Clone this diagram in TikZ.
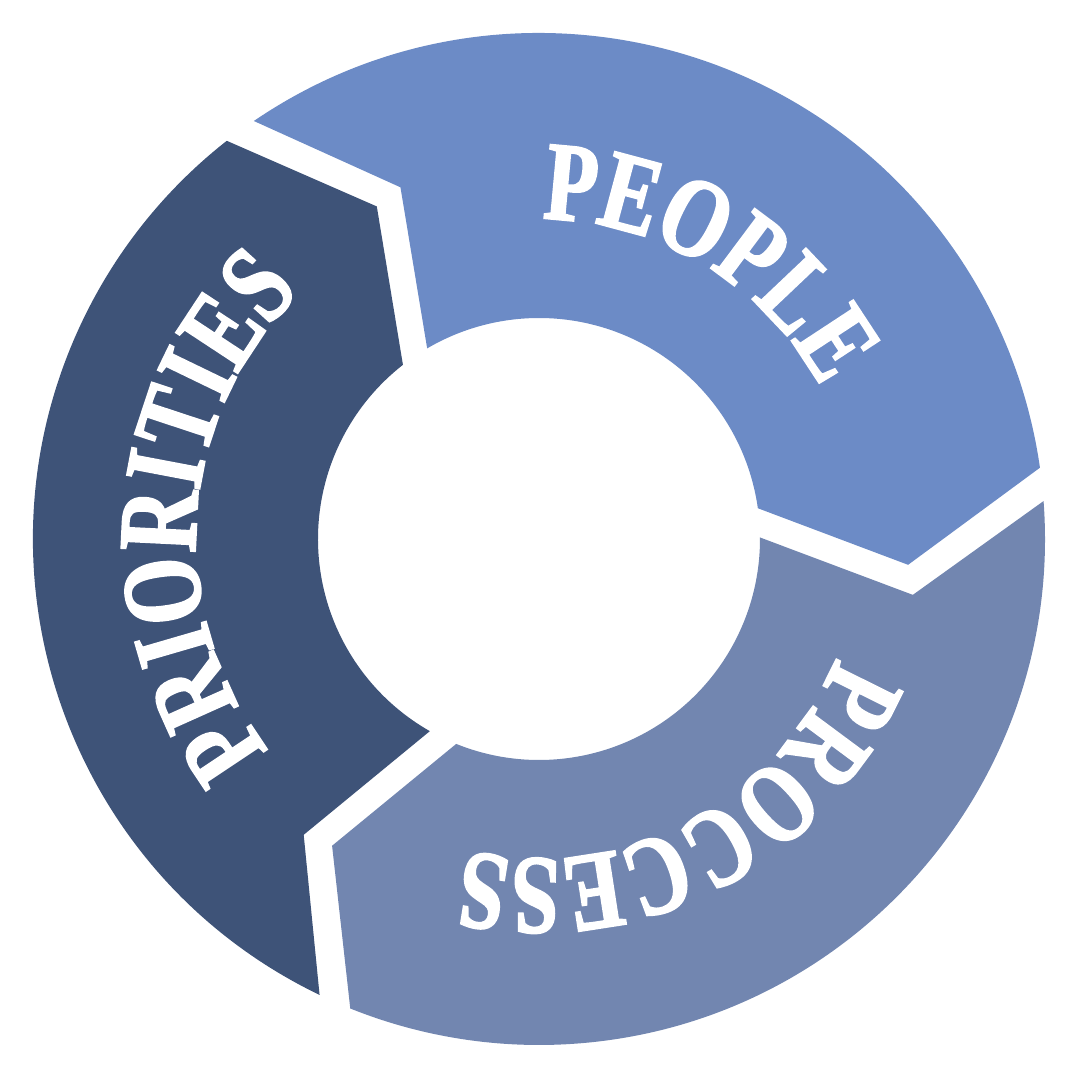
\documentclass[tikz,border=0pt]{standalone}
\usepackage{fontspec}
\usepackage{xcolor}
\usepackage{tikz}
\usetikzlibrary{decorations.text}

\newfontfamily\ringfont[FakeStretch=0.76, FakeBold=1.8]{Liberation Serif Bold}
\newcommand{\wordfont}{\ringfont\fontsize{32}{32}\selectfont\color{white}}

\definecolor{people}{HTML}{6C8BC6}
\definecolor{process}{HTML}{7286B0}
\definecolor{priorities}{HTML}{3E5378}

\begin{document}
\begin{tikzpicture}
		\def\R{5.06};
		\def\r{2.21};
		\def\t{3.70};
		\def\n{3.78};
		
		\useasboundingbox (-5.39,-5.41) rectangle (5.41,5.39);
		
		% arrow segments, clockwise
		\foreach \rot/\col in {0/people, -120/process, 120/priorities} {
			\fill [\col, rotate = \rot] (124.3:\R) arc [start angle = 124.3, end angle = 8.1, radius = \R] -- (-4:\t) -- (8:\r) arc [start angle = 8, end angle = 120.4, radius = \r] -- (111.5:\n) -- cycle;
		}
		
		% labels along the ring
		\path [decorate, decoration = {text along path, text align = center, text = {|\wordfont|PEOPLE}}] (108.8:3.20) arc [start angle = 108.8, end angle = 8.8, radius = 3.20];
		
		\path [decorate, decoration = {text along path, text align = center, text = {|\wordfont|PROCCESS}}] (-12.5:3.20) arc [start angle = -12.5, end angle = -112.5, radius = 3.20];
		
		\path [decorate, decoration = {text along path, text align = center, text = {|\wordfont|PRIORITIES}}] (226:3.43) arc [start angle = 226, end angle = 126, radius = 3.43];
	\end{tikzpicture}
\end{document}
